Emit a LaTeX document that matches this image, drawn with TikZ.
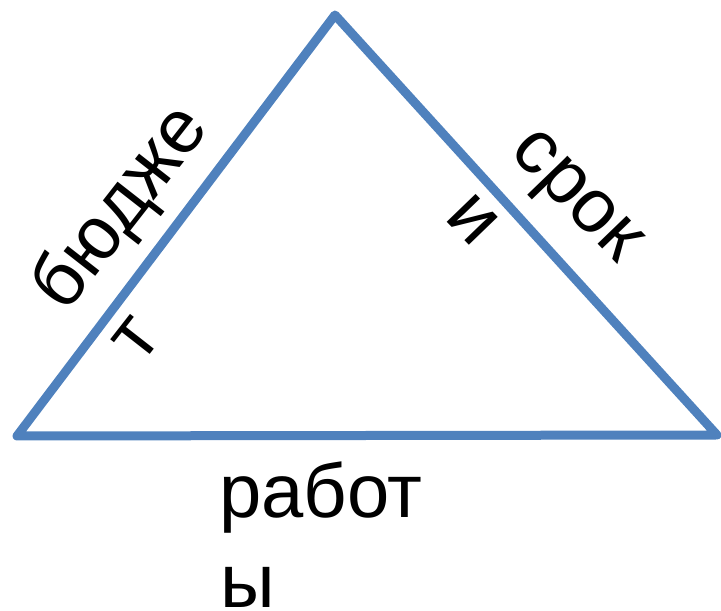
\documentclass[tikz,border=0pt]{standalone}
\usepackage{fontspec}
\setmainfont{Liberation Sans}
\definecolor{edgeblue}{HTML}{4F81BD}
\tikzset{
  edge/.style={draw=edgeblue, line width=9pt, line join=round, line cap=round},
  lbl/.style={font=\fontsize{76}{90}\selectfont, inner sep=0pt, text=black}
}
\begin{document}
\begin{tikzpicture}[x=1pt,y=1pt]
\useasboundingbox (0,0) rectangle (721,611);
\clip (0,0) rectangle (721,611);
\coordinate (top) at (335,596);
\coordinate (left) at (17,175);
\coordinate (right) at (717,176);
\draw[edge] (top) -- (left) -- (right) -- cycle;
\node[lbl, rotate=52, anchor=mid] (b1) at (136,391) {бюдже};
\node[lbl, rotate=52, anchor=mid] (b2) at (150,261) {т};
\node[lbl, rotate=-46, anchor=mid] (s1) at (565,404) {срок};
\node[lbl, rotate=-46, anchor=mid] (s2) at (460,379) {и};
\node[lbl, anchor=base west] (r1) at (219,93) {работ};
\node[lbl, anchor=base west] (r2) at (220,3) {ы};
\end{tikzpicture}
\end{document}
